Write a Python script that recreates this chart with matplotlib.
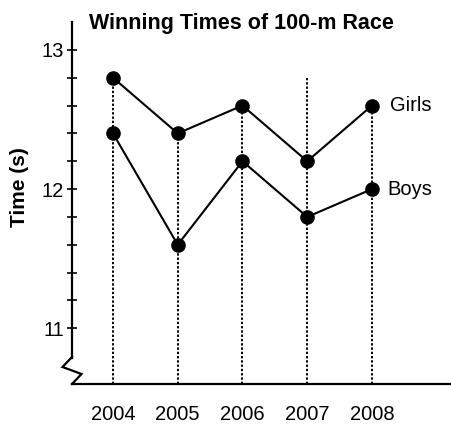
import matplotlib
matplotlib.use("Agg")
import matplotlib.pyplot as plt
from matplotlib.lines import Line2D

plt.rcParams['font.family'] = ['Liberation Sans', 'DejaVu Sans']

# data
years = ['2004', '2005', '2006', '2007', '2008']
girls = [12.8, 12.4, 12.6, 12.2, 12.6]
boys = [12.4, 11.6, 12.2, 11.8, 12.0]
guide_tops = [12.8, 12.4, 12.6, 12.8, 12.6]  # dotted guide lines up from the axis
y_major = [11, 12, 13]
y_minor_step = 0.2

W, H = 452, 425
fig = plt.figure(figsize=(W / 100, H / 100), dpi=100)
# axes box in pixels: left 72, right 452, bottom 384, top 22
ax = fig.add_axes([72 / W, (H - 384) / H, 380 / W, 362 / H])

x = list(range(len(years)))
ymin, ymax = 10.6, 13.2

ax.vlines(x, ymin, guide_tops, colors='black', linestyles=(0, (1.2, 1.0)), lw=1.4, zorder=1)
ax.plot(x, girls, color='black', lw=1.5, marker='o', ms=9.5, zorder=3, clip_on=False)
ax.plot(x, boys, color='black', lw=1.5, marker='o', ms=9.5, zorder=3, clip_on=False)

ax.annotate('Girls', (x[-1], girls[-1]), xytext=(13, 0), textcoords='offset points',
            va='center', ha='left', fontsize=14.5)
ax.annotate('Boys', (x[-1], boys[-1]), xytext=(11, 0), textcoords='offset points',
            va='center', ha='left', fontsize=14.5)

ax.set_xlim(-0.633, 5.236)
ax.set_ylim(ymin, ymax)

ax.set_xticks(x)
ax.set_xticklabels(years, fontsize=14.5)
ax.tick_params(axis='x', length=0, pad=15)

ax.set_yticks(y_major)
ax.set_yticklabels([str(v) for v in y_major], fontsize=14.5)
minor = [round(11 + i * y_minor_step, 1) for i in range(11)]
ax.set_yticks([m for m in minor if m not in y_major], minor=True)
ax.tick_params(axis='y', which='both', direction='inout', length=7.5, width=1.2, pad=2)

for s in ['top', 'right']:
    ax.spines[s].set_visible(False)
ax.spines['left'].set_linewidth(1.6)
ax.spines['bottom'].set_linewidth(1.6)
ax.spines['left'].set_bounds(10.79, ymax)

# axis break zigzag between y axis and x axis (pixel offsets from origin)
zx = [0, -9.5, 9.5, 0]
zy = [27, 17, 10, 0]
ax.add_line(Line2D([v / 380 for v in zx], [v / 362 for v in zy], transform=ax.transAxes,
                   color='black', lw=1.6, clip_on=False, solid_joinstyle='miter'))

fig.text(20 / W, 1 - 187 / H, 'Time (s)', rotation=90, ha='center', va='center',
         fontsize=15, fontweight='bold')

fig.text(241 / W, 1 - 29 / H, 'Winning Times of 100-m Race', ha='center', va='baseline',
         fontsize=15.5, fontweight='bold')

fig.savefig('out.png', dpi=100)
